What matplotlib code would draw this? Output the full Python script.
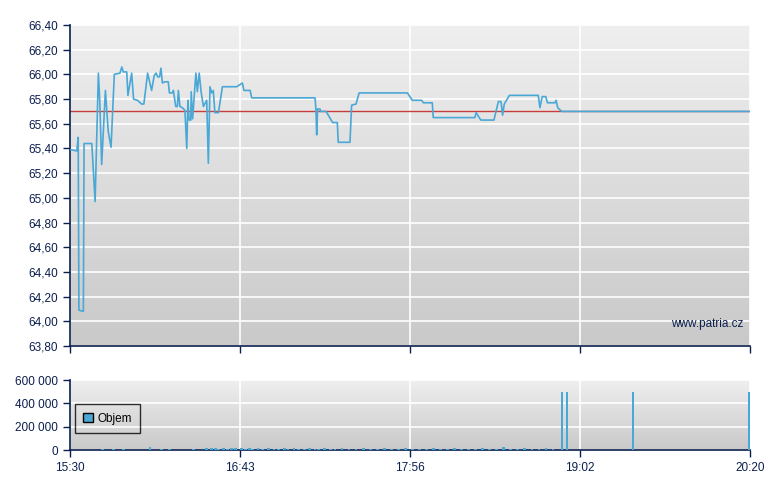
import numpy as np
import matplotlib.pyplot as plt
from matplotlib.patches import Patch

plt.rcParams['font.family'] = ['Liberation Sans', 'DejaVu Sans']

# price data: minutes since 15:30, price
t = [0.4, 2.9, 3.5, 3.8, 5.7, 6.0, 9.3, 10.7, 12.1, 12.7, 13.5, 15.1, 16.3, 17.5,
     18.9, 21.3, 22.1, 22.7, 24.2, 24.7, 26.3, 27.1, 28.8, 30.5, 31.5, 33.1, 34.8,
     35.9, 36.7, 37.4, 38.2, 38.8, 39.4, 40.5, 41.9, 42.4, 43.6, 44.1, 45.1, 45.8,
     46.2, 46.9, 47.9, 49.0, 49.8, 50.3, 50.8, 51.5, 51.7, 52.3, 53.3, 53.7, 54.3,
     55.1, 55.9, 56.9, 58.3, 59.0, 59.7, 60.4, 61.1, 61.8, 63.3, 65.0, 71.1, 73.5,
     74.2, 76.8, 77.5, 104.5, 104.9, 105.2, 105.6, 106.6, 106.9, 109.2, 112.0, 114.0,
     114.4, 119.4, 120.1, 122.0, 123.3, 143.9, 146.0, 150.0, 150.7, 154.5, 154.9,
     172.7, 173.2, 175.2, 180.8, 182.7, 183.8, 184.5, 185.2, 187.4, 199.7, 200.4,
     201.4, 202.9, 203.6, 206.8, 207.3, 208.0, 209.7, 290.0]
price = [65.39, 65.38, 65.49, 64.09, 64.08, 65.44, 65.44, 64.97, 66.01, 65.78, 65.27,
         65.87, 65.54, 65.41, 66.00, 66.01, 66.06, 66.02, 66.02, 65.83, 66.01, 65.80,
         65.79, 65.76, 65.76, 66.01, 65.87, 65.99, 66.01, 65.98, 65.98, 66.05, 65.93,
         65.94, 65.94, 65.85, 65.85, 65.87, 65.74, 65.74, 65.87, 65.74, 65.73, 65.71,
         65.40, 65.79, 65.63, 65.63, 65.86, 65.64, 65.91, 66.01, 65.86, 66.01, 65.86,
         65.74, 65.79, 65.28, 65.90, 65.85, 65.87, 65.69, 65.69, 65.90, 65.90, 65.93,
         65.87, 65.87, 65.81, 65.81, 65.71, 65.51, 65.72, 65.72, 65.70, 65.70, 65.61,
         65.61, 65.45, 65.45, 65.75, 65.76, 65.85, 65.85, 65.79, 65.79, 65.77, 65.77,
         65.65, 65.65, 65.69, 65.63, 65.63, 65.78, 65.78, 65.67, 65.76, 65.83, 65.83,
         65.73, 65.82, 65.82, 65.77, 65.77, 65.79, 65.73, 65.70, 65.70]
prev_close = 65.70

# volume data
vol_t = [13.8, 18.5, 22.7, 34.1, 39.1, 42.6, 52.6, 58.3, 60.4, 62.0, 63.5, 65.3,
         67.0, 68.8, 70.5, 73.2, 75.0, 76.5, 78.0, 80.2, 82.0, 84.5, 87.0, 89.0,
         91.5, 93.0, 95.5, 97.5, 100.0, 102.0, 104.5, 106.0, 108.5, 111.0, 113.0,
         116.0, 119.0, 122.0, 125.0, 128.0, 131.0, 134.0, 137.0, 140.0, 143.0,
         146.0, 149.0, 152.0, 155.0, 158.0, 161.0, 164.0, 167.0, 170.0, 173.0,
         176.0, 179.0, 182.0, 185.0, 188.0, 191.0, 194.0, 197.0, 200.0, 203.0,
         206.0, 209.8, 212.0, 240.1, 289.6]
vol = [12000, 12000, 12000, 28000, 12000, 12000, 12000, 16000, 14000, 16000, 12000, 14000,
       12000, 14000, 16000, 14000, 12000, 14000, 12000, 16000, 12000, 14000, 12000, 12000,
       14000, 12000, 14000, 12000, 12000, 14000, 12000, 12000, 14000, 12000, 12000, 14000,
       12000, 12000, 14000, 12000, 12000, 14000, 12000, 12000, 14000, 12000, 12000, 12000,
       14000, 12000, 12000, 14000, 12000, 12000, 12000, 14000, 12000, 12000, 22000, 12000,
       12000, 14000, 12000, 12000, 14000, 12000, 500000, 500000, 500000, 500000]
vol_w = [1.2] * 66 + [0.8, 0.8, 0.8, 0.6]

tick_pos = [0, 72.5, 145, 217.5, 290]
tick_lab = ['15:30', '16:43', '17:56', '19:02', '20:20']

navy = '#0b1f4e'
line_col = '#4aa8d6'

fig = plt.figure(figsize=(7.8, 4.9), dpi=100)
ax = fig.add_axes([70/780, 1-346/490, 680/780, 321/490])
ax2 = fig.add_axes([70/780, 1-450/490, 680/780, 70/490])

def style(a, ylo, yhi):
    grad = np.linspace(0, 1, 256).reshape(-1, 1)
    a.imshow(grad, extent=[0, 1, 0, 1], transform=a.transAxes, aspect='auto',
             cmap=plt.matplotlib.colors.LinearSegmentedColormap.from_list('g', ['#efefef', '#c9c9c9']),
             zorder=0)
    a.set_xlim(0, 290)
    a.set_ylim(ylo, yhi)
    for s in ['top', 'right']:
        a.spines[s].set_visible(False)
    for s in ['left', 'bottom']:
        a.spines[s].set_color(navy)
        a.spines[s].set_linewidth(1.2)
    a.grid(True, color='white', linewidth=1.2)
    a.set_axisbelow(True)
    a.set_xticks(tick_pos)
    a.tick_params(colors=navy, labelsize=8.5, length=5, width=1, labelcolor=navy)

style(ax, 63.8, 66.4)
yt = np.arange(63.8, 66.41, 0.2)
ax.set_yticks(yt)
ax.set_yticklabels([('%.2f' % v).replace('.', ',') for v in yt])
ax.set_xticklabels([])
ax.axhline(prev_close, color='#c83c3c', linewidth=1, zorder=2)
ax.plot(t, price, color=line_col, linewidth=1.2, zorder=3)
ax.text(0.99, 0.07, 'www.patria.cz', transform=ax.transAxes, ha='right', va='center',
        fontsize=8.5, color=navy)

style(ax2, 0, 600000)
ax2.set_yticks([0, 200000, 400000, 600000])
ax2.set_yticklabels(['0', '200 000', '400 000', '600 000'])
ax2.set_xticklabels(tick_lab)
ax2.bar(vol_t, vol, width=vol_w, color=line_col, zorder=3)
leg = ax2.legend(handles=[Patch(facecolor=line_col, edgecolor='black', label='Objem')],
                 loc='lower left', bbox_to_anchor=(5/680, 17/70), borderaxespad=0,
                 fontsize=8.5, frameon=True, fancybox=False, edgecolor='black',
                 handlelength=0.8, handleheight=0.8, handletextpad=0.4, borderpad=0.7)
leg.get_frame().set_facecolor('none')
leg.get_frame().set_linewidth(1)

fig.savefig('out.png', dpi=100)
